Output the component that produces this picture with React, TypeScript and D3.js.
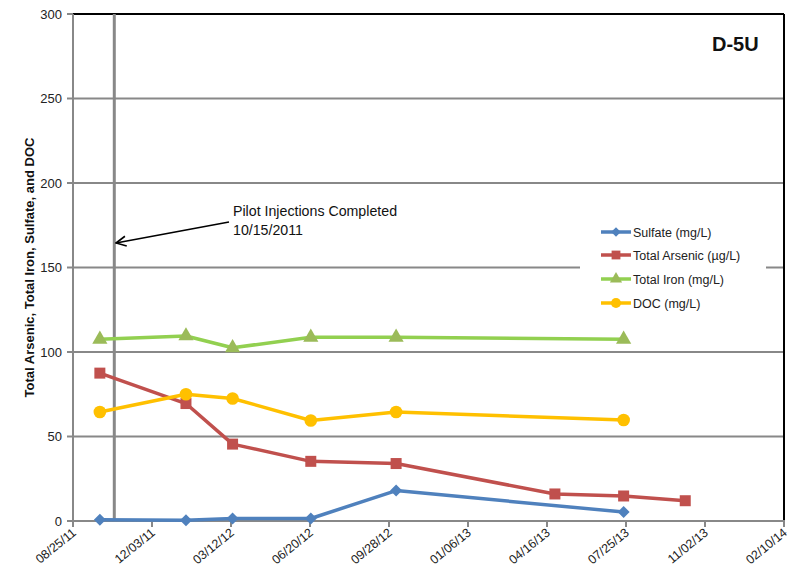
import React from "react";
import * as d3 from "d3";

const W = 787;
const H = 582;
const margin = { left: 73, right: 3, top: 14, bottom: 61 };

const parse = d3.timeParse("%m/%d/%y");

const tickLabels = [
  "08/25/11", "12/03/11", "03/12/12", "06/20/12", "09/28/12",
  "01/06/13", "04/16/13", "07/25/13", "11/02/13", "02/10/14",
];
const yTicks = [0, 50, 100, 150, 200, 250, 300];

const sulfateDates = ["09/28/11", "01/15/12", "03/14/12", "06/21/12", "10/07/12", "07/22/13"];
const sulfateValues = [0.8, 0.5, 1.5, 1.5, 18, 5.3];

const arsenicDates = ["09/28/11", "01/15/12", "03/14/12", "06/21/12", "10/07/12", "04/26/13", "07/22/13", "10/08/13"];
const arsenicValues = [87.5, 69.5, 45.5, 35.3, 34, 16, 14.8, 12];

const ironDates = ["09/28/11", "01/15/12", "03/14/12", "06/21/12", "10/07/12", "07/22/13"];
const ironValues = [107.5, 109.5, 102.5, 108.7, 108.7, 107.5];

const docDates = ["09/28/11", "01/15/12", "03/14/12", "06/21/12", "10/07/12", "07/22/13"];
const docValues = [64.5, 75, 72.5, 59.5, 64.5, 59.8];

const injectionDate = "10/15/11";

type Series = {
  name: string;
  dates: string[];
  values: number[];
  line: string;
  marker: string;
  shape: "diamond" | "square" | "triangle" | "circle";
};

const series: Series[] = [
  { name: "Sulfate (mg/L)", dates: sulfateDates, values: sulfateValues, line: "#4F81BD", marker: "#4F81BD", shape: "diamond" },
  { name: "Total Arsenic (\u00b5g/L)", dates: arsenicDates, values: arsenicValues, line: "#C0504D", marker: "#C0504D", shape: "square" },
  { name: "Total Iron (mg/L)", dates: ironDates, values: ironValues, line: "#92D050", marker: "#9BBB59", shape: "triangle" },
  { name: "DOC (mg/L)", dates: docDates, values: docValues, line: "#FFC000", marker: "#FFC000", shape: "circle" },
];

// diamond drawn as a square turned 45 degrees so it is as wide as it is tall
const symbolFor = (shape: Series["shape"]) => {
  switch (shape) {
    case "diamond":
      return { d: d3.symbol().type(d3.symbolSquare).size(72)()!, rot: 45 };
    case "square":
      return { d: d3.symbol().type(d3.symbolSquare).size(121)()!, rot: 0 };
    case "triangle":
      return { d: d3.symbol().type(d3.symbolTriangle).size(100)()!, rot: 0 };
    default:
      return { d: d3.symbol().type(d3.symbolCircle).size(125)()!, rot: 0 };
  }
};

const font = "'Liberation Sans', Arial, sans-serif";

export default function App() {
  const x = d3
    .scaleTime()
    .domain([parse(tickLabels[0])!, parse(tickLabels[tickLabels.length - 1])!])
    .range([margin.left, W - margin.right]);
  const y = d3.scaleLinear().domain([0, 300]).range([H - margin.bottom, margin.top]);

  const line = d3
    .line<[Date, number]>()
    .x((d) => x(d[0]))
    .y((d) => y(d[1]));

  const x0 = margin.left;
  const x1 = W - margin.right;
  const y0 = H - margin.bottom;
  const y1 = margin.top;
  const grid = "#888888";
  const injX = x(parse(injectionDate)!);

  const legendX = 580;
  const legendY = 216;
  const legendRows = [232, 255, 279, 303];

  return (
    <svg width={W} height={H} style={{ position: "absolute", left: 0, top: 0 }} fontFamily={font}>
      <defs>
        <marker id="arrowHead" viewBox="0 0 12 12" refX="11" refY="6" markerWidth="12" markerHeight="12" markerUnits="userSpaceOnUse" orient="auto">
          <path d="M1,1 L11,6 L1,11" fill="none" stroke="#000" strokeWidth={1.6} />
        </marker>
      </defs>
      <rect width={W} height={H} fill="#fff" />

      {/* horizontal gridlines */}
      {yTicks.slice(1, -1).map((t) => (
        <line key={t} x1={x0} x2={x1} y1={y(t)} y2={y(t)} stroke={grid} strokeWidth={2} />
      ))}

      {/* frame */}
      <line x1={x0} x2={x1} y1={y1} y2={y1} stroke="#000" strokeWidth={2} />
      <line x1={x1} x2={x1} y1={y1} y2={y0} stroke="#000" strokeWidth={2} />
      <line x1={x0} x2={x0} y1={y1} y2={y0 + 1} stroke={grid} strokeWidth={2} />
      <line x1={x0 - 1} x2={x1 + 1} y1={y0} y2={y0} stroke={grid} strokeWidth={2} />

      {/* y ticks */}
      {yTicks.map((t) => (
        <g key={t}>
          <line x1={x0 - 6} x2={x0} y1={y(t)} y2={y(t)} stroke={grid} strokeWidth={2} />
          <text x={x0 - 11} y={y(t) + 4.5} textAnchor="end" fontSize={13} fill="#222">
            {t}
          </text>
        </g>
      ))}

      {/* x ticks */}
      {tickLabels.map((t) => {
        const tx = x(parse(t)!);
        return (
          <g key={t}>
            <line x1={tx} x2={tx} y1={y0} y2={y0 + 6} stroke={grid} strokeWidth={2} />
            <text
              transform={`translate(${tx + 4},${y0 + 13}) rotate(-39)`}
              textAnchor="end"
              fontSize={12.5}
              fill="#222"
            >
              {t}
            </text>
          </g>
        );
      })}

      {/* injection marker line */}
      <line x1={injX + 1} x2={injX + 1} y1={y1} y2={y0} stroke={grid} strokeWidth={3} />

      {/* y axis title */}
      <text
        transform={`translate(34,${(y0 + y1) / 2}) rotate(-90)`}
        textAnchor="middle"
        fontSize={13}
        fontWeight="bold"
        fill="#111"
      >
        Total Arsenic, Total Iron, Sulfate, and DOC
      </text>

      {/* series */}
      {series.map((s) => {
        const pts: [Date, number][] = s.dates.map((d, i) => [parse(d)!, s.values[i]]);
        const sym = symbolFor(s.shape);
        return (
          <g key={s.name}>
            <path d={line(pts)!} fill="none" stroke={s.line} strokeWidth={3.5} strokeLinejoin="round" />
            {pts.map((p, i) => (
              <path
                key={i}
                d={sym.d}
                transform={`translate(${x(p[0])},${y(p[1])}) rotate(${sym.rot})`}
                fill={s.marker}
              />
            ))}
          </g>
        );
      })}

      {/* legend */}
      <rect x={legendX} y={legendY} width={186} height={106} fill="#fff" />
      {series.map((s, i) => {
        const ly = legendRows[i];
        const sym = symbolFor(s.shape);
        return (
          <g key={s.name}>
            <line x1={601} x2={631} y1={ly} y2={ly} stroke={s.line} strokeWidth={3.5} />
            <path d={sym.d} transform={`translate(616,${ly}) rotate(${sym.rot}) scale(0.8)`} fill={s.marker} />
            <text x={633} y={ly + 4.5} fontSize={12.5} fill="#222">
              {s.name}
            </text>
          </g>
        );
      })}

      {/* annotation */}
      <text x={233} y={216} fontSize={14.2} fill="#111">
        Pilot Injections Completed
      </text>
      <text x={233} y={235} fontSize={14.2} fill="#111">
        10/15/2011
      </text>
      <line x1={229} y1={222} x2={116} y2={243} stroke="#000" strokeWidth={1.6} markerEnd="url(#arrowHead)" />

      {/* well id */}
      <text x={712} y={51} fontSize={20} fontWeight="bold" fill="#111">
        D-5U
      </text>
    </svg>
  );
}
